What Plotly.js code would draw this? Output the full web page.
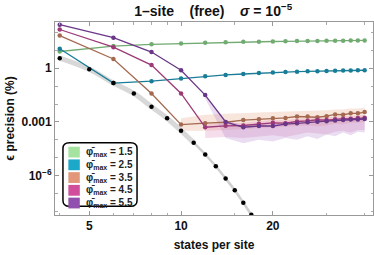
<!DOCTYPE html>
<html><head><meta charset="utf-8">
<script src="https://cdn.plot.ly/plotly-3.0.1.min.js"></script>
<style>html,body{margin:0;padding:0;background:#fff;}#chart{width:374px;height:255px;}</style>
</head><body><div id="chart"></div>
<script>
// ---- data ----
const statesExact = [4,5,6,7,8,9,10,11,12,13,14,15,16,17];
const precisionExact = [3.7,0.88,0.15,0.039,0.0071,0.0016,3.2e-4,6.9e-5,1.5e-5,3.3e-6,6.8e-7,1.5e-7,3.0e-8,6.3e-9];

const statesSeries = [4,6,8,10,12,14,16,18,20,22,24,26,28,30,32,34,36,38,40];
const phi15 = [8.7,17.4,21.9,24.5,26.9,28.8,30.2,30.9,31.6,32.4,33.1,33.5,33.9,34.3,34.7,35.1,35.5,35.9,36.3];
const phi25 = [12.3,0.148,0.19,0.27,0.355,0.427,0.479,0.537,0.575,0.617,0.646,0.676,0.692,0.708,0.724,0.741,0.759,0.767,0.776];
const phi35 = [67.6,3.31,0.0389,7.08e-4,8.51e-4,9.55e-4,1.26e-3,1.41e-3,1.58e-3,1.66e-3,2.0e-3,2.0e-3,1.82e-3,2.09e-3,2.63e-3,2.51e-3,3.02e-3,3.02e-3,3.55e-3];
const phi45 = [148,15.1,1.51,0.0389,5.0e-4,6.0e-4,6.3e-4,7.9e-4,8.9e-4,8.5e-4,1.05e-3,1.15e-3,1.32e-3,1.26e-3,1.41e-3,1.51e-3,1.48e-3,1.66e-3,1.70e-3];
const phi55 = [275,51.3,8.13,0.776,0.0316,1.0e-3,5.0e-4,5.9e-4,5.9e-4,7.6e-4,8.3e-4,9.5e-4,1.02e-3,1.10e-3,1.20e-3,1.26e-3,1.35e-3,1.38e-3,1.45e-3];

const statesBand35 = [10,12,14,16,18,20,22,24,26,28,30,32,34,36,38,40];
const band35Upper = [1.58e-3,2.51e-3,2.82e-3,3.16e-3,3.31e-3,3.55e-3,3.8e-3,3.98e-3,4.17e-3,3.98e-3,4.47e-3,5.01e-3,5.01e-3,5.62e-3,5.62e-3,6.31e-3];
const band35Lower = [3.16e-4,3.16e-4,3.55e-4,3.98e-4,4.47e-4,5.01e-4,5.01e-4,5.62e-4,6.31e-4,5.62e-4,6.31e-4,7.94e-4,7.08e-4,8.91e-4,8.91e-4,1e-3];

const statesBand45 = [12,14,16,18,20,22,24,26,28,30,32,34,36,38,40];
const band45Upper = [7.08e-4,8.51e-4,8.91e-4,1.12e-3,1.26e-3,1.2e-3,1.48e-3,1.62e-3,1.86e-3,1.78e-3,2.0e-3,2.14e-3,2.09e-3,2.34e-3,2.4e-3];
const band45Lower = [1.26e-4,1.41e-4,1.26e-4,1.58e-4,1.78e-4,1.41e-4,2.0e-4,2.51e-4,2.24e-4,2.0e-4,2.82e-4,3.16e-4,2.51e-4,3.55e-4,3.55e-4];

const statesBand55 = [12,14,16,18,20,22,24,26,28,30,32,34,36,38,40];
const band55Upper = [0.0316,1.26e-3,6.31e-4,7.08e-4,7.08e-4,8.91e-4,1e-3,1.12e-3,1.26e-3,1.26e-3,1.41e-3,1.41e-3,1.58e-3,1.58e-3,1.66e-3];
const band55Lower = [0.02,1.26e-4,6.31e-5,1e-4,7.94e-5,1.26e-4,1e-4,1.58e-4,1.12e-4,2.0e-4,1.58e-4,2.51e-4,1.78e-4,2.82e-4,2.51e-4];

const legendLabels = ['1.5','2.5','3.5','4.5','5.5'];
const yTickVals = [1e-6,1e-3,1];
const yTickText = ['10<sup>\u22126</sup>','0.001','1'];
const xTickVals = [5,10,20];
const xTickText = ['5','10','20'];

// ---- styles ----
const lineColors = ['#72ab72','#1a7d98','#a46a50','#9c3a78','#6a3688'];
const swatchColors = ['#a6e3a0','#1ca9c9','#e3977a','#d04e9c','#9150ad'];
const seriesData = [phi15, phi25, phi35, phi45, phi55];

const traces = [];
function band(xs, up, lo, color){
  traces.push({x: xs, y: up, mode:'lines', line:{width:0}, hoverinfo:'skip', showlegend:false});
  traces.push({x: xs, y: lo, mode:'lines', line:{width:0}, fill:'tonexty', fillcolor:color, hoverinfo:'skip', showlegend:false});
}
band(statesBand35, band35Upper, band35Lower, 'rgba(232,170,140,0.30)');
band(statesBand45, band45Upper, band45Lower, 'rgba(215,120,175,0.25)');
band(statesBand55, band55Upper, band55Lower, 'rgba(170,120,200,0.25)');

// grey guide through the exact points: wider where the curve is shallow, thinner lower down
const split = 8;
traces.push({x: statesExact.slice(0, split), y: precisionExact.slice(0, split), mode:'lines', line:{color:'#d8d8d8', width:5, shape:'spline'}, showlegend:false});
traces.push({x: statesExact.slice(split-1), y: precisionExact.slice(split-1), mode:'lines', line:{color:'#d0d0d0', width:2.5, shape:'spline'}, showlegend:false});

seriesData.forEach((s,i)=>{
  traces.push({x: statesSeries, y: s, mode:'lines+markers', line:{color:lineColors[i], width:1.3}, marker:{color:lineColors[i], size:4.5}, showlegend:false});
});
traces.push({x: statesExact, y: precisionExact, mode:'markers', marker:{color:'#000', size:4.5}, showlegend:false});

// legend built as shapes + annotations
const shapes = [];
const annotations = [];
const lx0 = 0.025, lx1 = 0.258, ly0 = 0.045, ly1 = 0.374, r = 0.02, ry = 0.03;
shapes.push({type:'path', xref:'paper', yref:'paper',
  path:`M ${lx0+r},${ly1} L ${lx1-r},${ly1} Q ${lx1},${ly1} ${lx1},${ly1-ry} L ${lx1},${ly0+ry} Q ${lx1},${ly0} ${lx1-r},${ly0} L ${lx0+r},${ly0} Q ${lx0},${ly0} ${lx0},${ly0+ry} L ${lx0},${ly1-ry} Q ${lx0},${ly1} ${lx0+r},${ly1} Z`,
  line:{color:'#000', width:1.5}, fillcolor:'#fff', layer:'above'});
const itemStep = 0.066;
legendLabels.forEach((lab,i)=>{
  const yc = 0.326 - i*itemStep;
  shapes.push({type:'rect', xref:'paper', yref:'paper', x0:0.042, x1:0.078, y0:yc-0.028, y1:yc+0.028, fillcolor:swatchColors[i], line:{width:0}, layer:'above'});
  annotations.push({xref:'paper', yref:'paper', x:0.09, y:yc, xanchor:'left', yanchor:'middle', showarrow:false,
    text:'\u03C6\u0304<sub>max</sub> = '+lab, font:{family:'Liberation Sans, Arial', size:10, color:'#222', weight:'bold'}});
});

const layout = {
  width:374, height:255,
  margin:{l:55, r:1, t:22, b:40},
  paper_bgcolor:'#fff', plot_bgcolor:'#fff',
  font:{family:'Liberation Sans, Arial, sans-serif', color:'#111'},
  title:{text:'1\u2013site    (free)    <i>\u03C3</i> = 10<sup>\u22125</sup>', x:0.57, xanchor:'center', y:0.955, yanchor:'middle',
    font:{size:14, weight:'bold', color:'#111'}},
  xaxis:{type:'log', range:[Math.log10(3.86), Math.log10(42.6)],
    tickvals:xTickVals, ticktext:xTickText, ticks:'inside', ticklen:4, tickcolor:'#999',
    minor:{tickvals:[4,6,7,8,9,15,30,40], ticks:'inside', ticklen:2.5, tickcolor:'#aaa'},
    showgrid:false, zeroline:false, showline:true, linecolor:'#999', linewidth:1, mirror:'ticks',
    tickfont:{size:12, weight:'bold', color:'#111'},
    title:{text:'states per site', font:{size:12, weight:'bold', color:'#111'}, standoff:8}},
  yaxis:{type:'log', range:[-8.21, 2.59],
    tickvals:yTickVals, ticktext:yTickText, ticks:'inside', ticklen:4, tickcolor:'#999',
    minor:{tickvals:[1e-8,1e-7,1e-5,1e-4,1e-2,0.1,10,100], ticks:'inside', ticklen:2.5, tickcolor:'#aaa'},
    showgrid:false, zeroline:false, showline:true, linecolor:'#999', linewidth:1, mirror:'ticks',
    tickfont:{size:12, weight:'bold', color:'#111'},
    title:{text:'\u03F5 precision (%)', font:{size:12, weight:'bold', color:'#111'}, standoff:4}},
  shapes:shapes, annotations:annotations, showlegend:false
};
Plotly.newPlot('chart', traces, layout, {displayModeBar:false, staticPlot:true});
</script></body></html>
